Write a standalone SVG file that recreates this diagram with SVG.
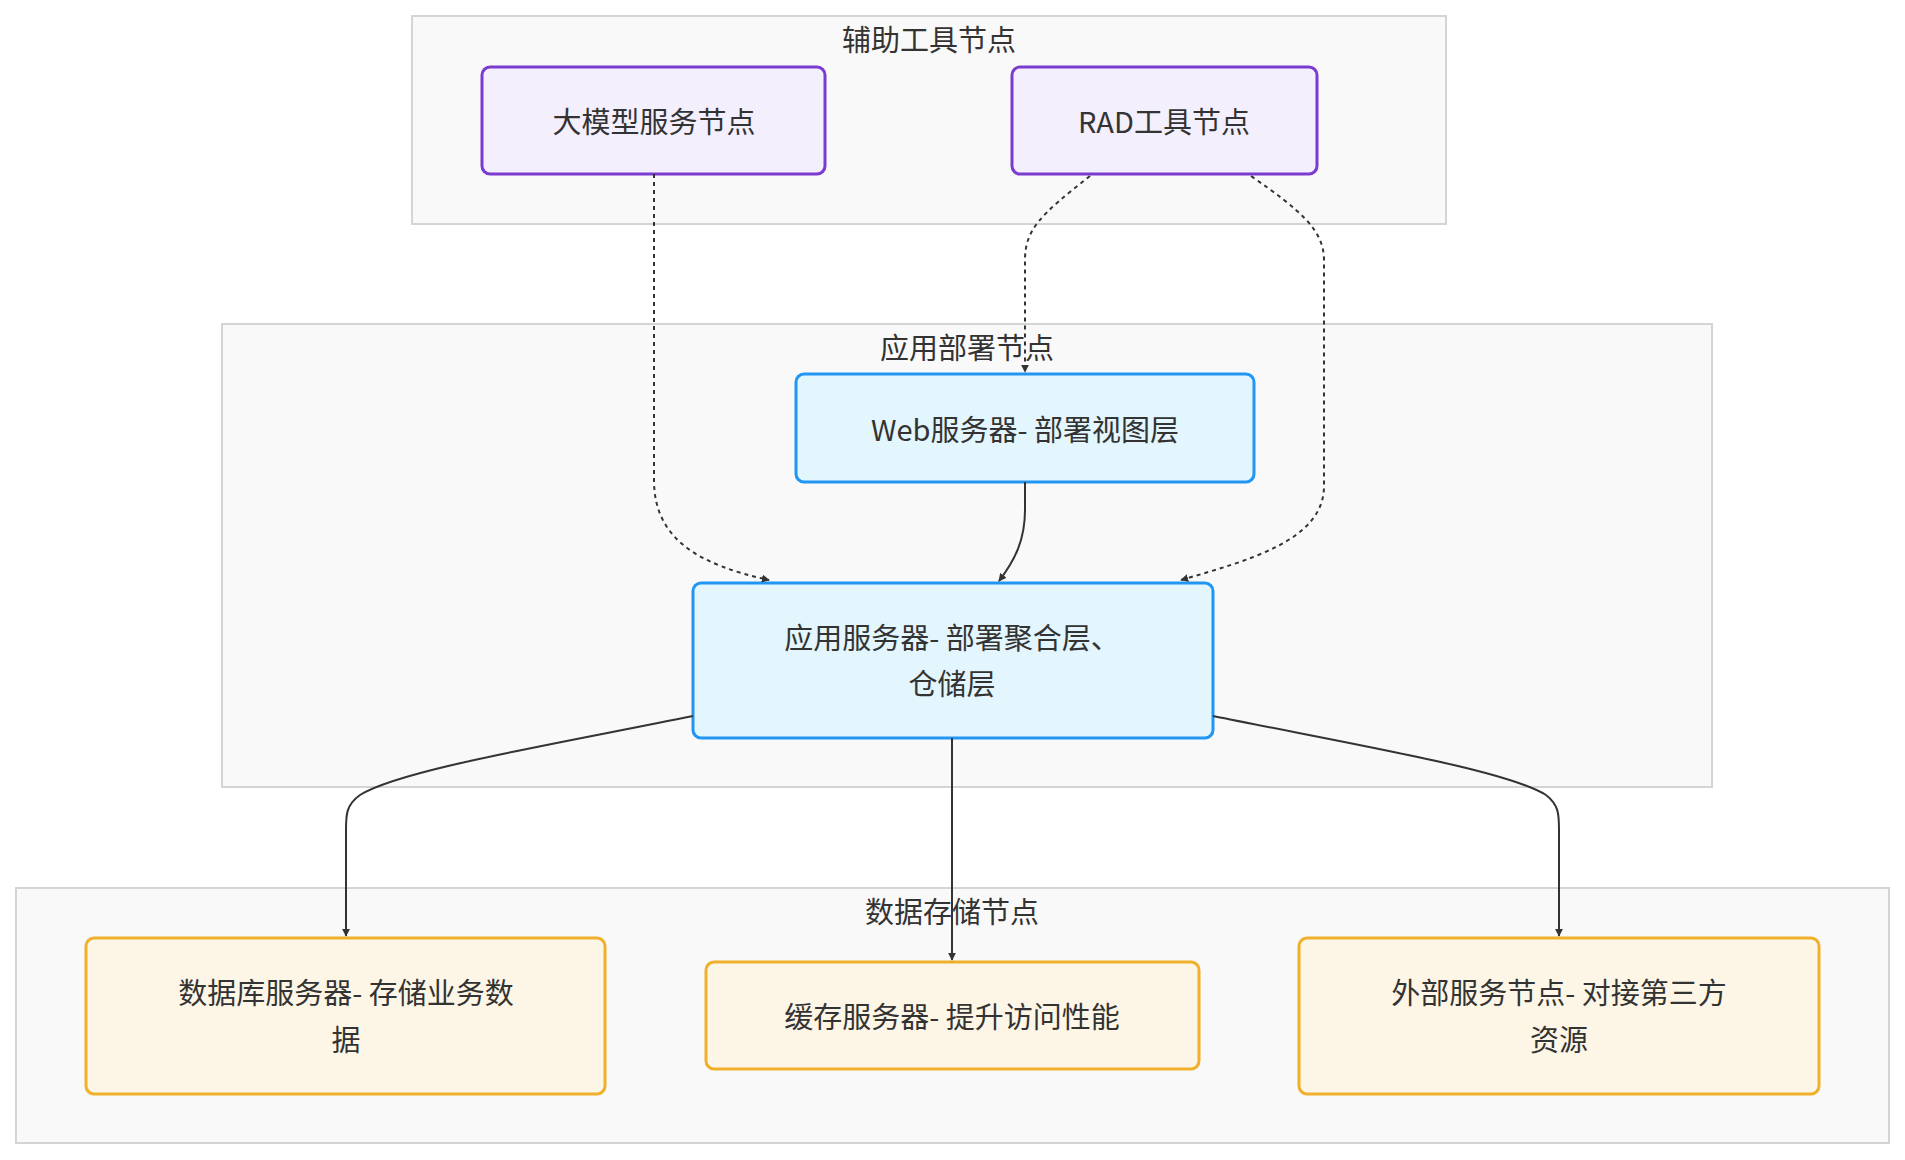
<svg xmlns="http://www.w3.org/2000/svg" width="1905" height="1160" viewBox="0 0 1905 1160">
<style>
text{font-family:"Noto Sans CJK SC","Noto Sans",sans-serif;font-size:29px;fill:#333;text-anchor:middle;dominant-baseline:central}
.cl{fill:#f9f9f9;stroke:#d4d4d4;stroke-width:2}
.p{fill:#f4effd;stroke:#7b3bd0;stroke-width:3}
.b{fill:#e3f5fd;stroke:#2196f3;stroke-width:3}
.y{fill:#fdf6e6;stroke:#f1b02c;stroke-width:3}
.e{fill:none;stroke:#333;stroke-width:2;marker-end:url(#a)}
.d{stroke-dasharray:4 4}
</style>
<defs><marker id="a" viewBox="0 0 10 10" refX="9" refY="5" markerWidth="8" markerHeight="8" orient="auto" markerUnits="userSpaceOnUse" ><path d="M0,0L10,5L0,10z" fill="#333"/></marker></defs>
<rect width="1905" height="1160" fill="#fff"/>
<g id="cluster-aux"><rect class="cl" x="412" y="16" width="1034" height="208"/><text x="929" y="38">辅助工具节点</text></g>
<g id="cluster-app"><rect class="cl" x="222" y="324" width="1490" height="463"/><text x="967" y="346">应用部署节点</text></g>
<g id="cluster-data"><rect class="cl" x="16" y="888" width="1873" height="255"/><text x="952" y="910">数据存储节点</text></g>
<g id="n-llm"><rect class="p" x="482" y="67" width="343" height="107" rx="8"/><text x="654" y="120">大模型服务节点</text></g>
<g id="n-rad"><rect class="p" x="1012" y="67" width="305" height="107" rx="8"/><text x="1164" y="120">RAD工具节点</text></g>
<g id="n-web"><rect class="b" x="796" y="374" width="458" height="108" rx="8"/><text x="1025" y="428">Web服务器- 部署视图层</text></g>
<g id="n-as"><rect class="b" x="693" y="583" width="520" height="155" rx="8"/><text x="952" y="636">应用服务器- 部署聚合层、</text><text x="952" y="682">仓储层</text></g>
<g id="n-db"><rect class="y" x="86" y="938" width="519" height="156" rx="8"/><text x="346" y="991">数据库服务器- 存储业务数</text><text x="346" y="1038">据</text></g>
<g id="n-cache"><rect class="y" x="706" y="962" width="493" height="107" rx="8"/><text x="952" y="1015">缓存服务器- 提升访问性能</text></g>
<g id="n-ext"><rect class="y" x="1299" y="938" width="520" height="156" rx="8"/><text x="1559" y="991">外部服务节点- 对接第三方</text><text x="1559" y="1038">资源</text></g>
<g id="edges">
<path class="e d" d="M654,174V480C654,540 700,565 769,580"/>
<path class="e d" d="M1090,176C1040,215 1025,230 1025,260V372"/>
<path class="e d" d="M1251,176C1300,210 1324,230 1324,260V486C1324,540 1250,560 1181,580"/>
<path class="e" d="M1025,482V510C1025,540 1015,560 999,581"/>
<path class="e" d="M693,716C550,745 400,770 360,795C346,805 346,815 346,830V936"/>
<path class="e" d="M952,738V960"/>
<path class="e" d="M1213,716C1356,745 1506,770 1546,795C1559,805 1559,815 1559,830V936"/>
</g>
</svg>
